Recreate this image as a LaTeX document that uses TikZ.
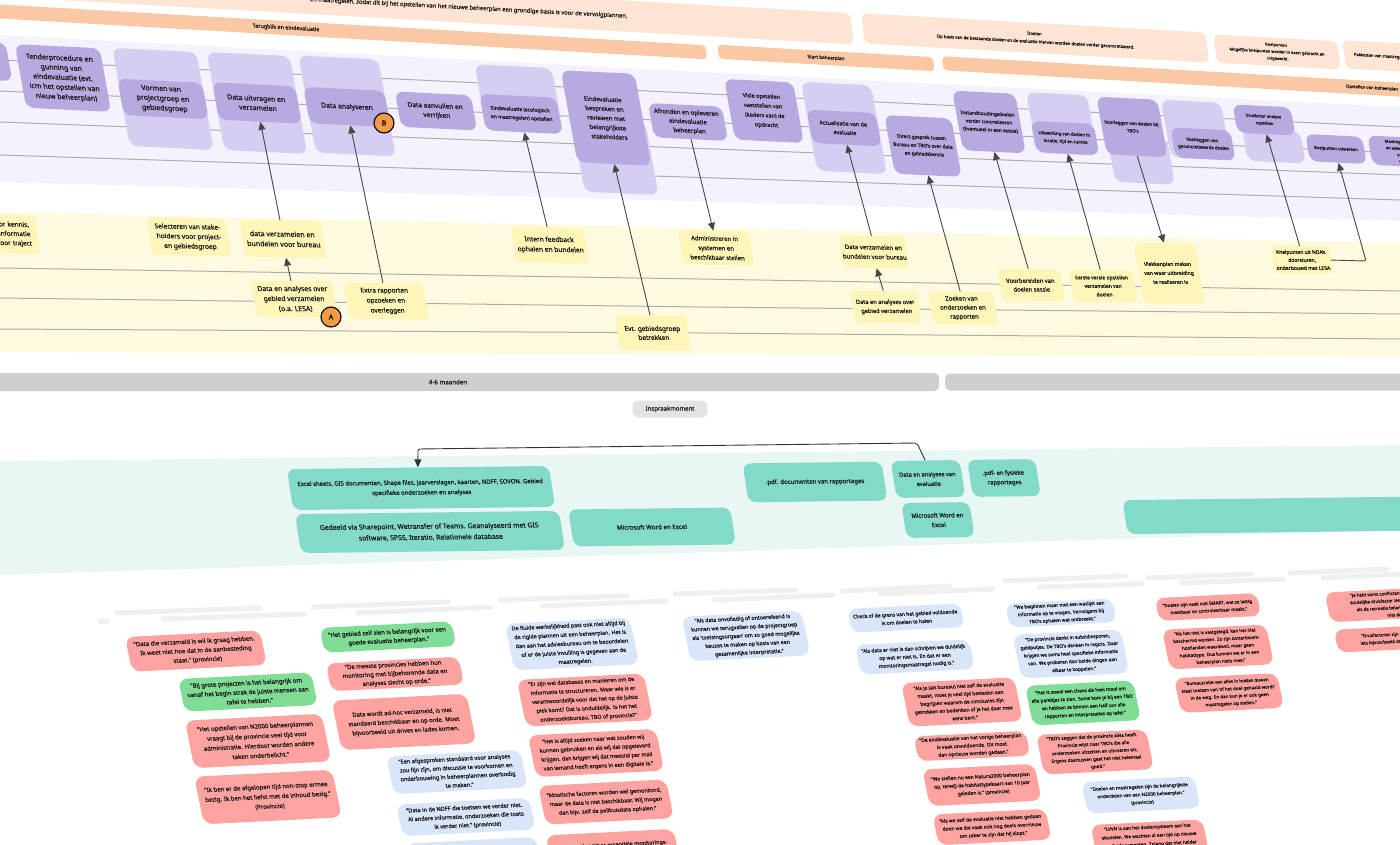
\documentclass[tikz,border=0pt]{standalone}
\usepackage{fontspec}
\setmainfont{Noto Sans}[FakeBold=0.25]
\usetikzlibrary{arrows.meta}

\definecolor{darkpurple}{HTML}{B9A9E1}
\definecolor{lightpurple}{HTML}{D6CEF1}
\definecolor{purpleband}{HTML}{F4F2FC}
\definecolor{yellowband}{HTML}{FEFADF}
\definecolor{yellowcard}{HTML}{FEF5B8}
\definecolor{tealband}{HTML}{E8F7F4}
\definecolor{tealcard}{HTML}{84DAC8}
\definecolor{peach}{HTML}{FEE4D3}
\definecolor{orangeband}{HTML}{FBC8A5}
\definecolor{rednote}{HTML}{FFA3A1}
\definecolor{greennote}{HTML}{80DD96}
\definecolor{bluenote}{HTML}{D9E5F9}
\definecolor{badgeorange}{HTML}{F49A45}

\tikzset{
	sz/.style 2 args={minimum width=#1pt,minimum height=#2pt},
	fs/.style 2 args={font=\fontsize{#1}{#2}\selectfont},
	card/.style={transform shape,inner sep=0pt,align=center,text=black!92,rounded corners=5pt},
	peachcard/.style={card,fill=peach,rotate=-3.2,xslant=-.18,rounded corners=6pt},
	orangecard/.style={card,fill=orangeband,rotate=-3.3,xslant=-.18,rounded corners=4pt},
	darkcard/.style={card,fill=darkpurple,rotate=-2.8,xslant=-.23,rounded corners=8pt},
	lightcard/.style={card,fill=lightpurple,rotate=-2.8,xslant=-.23,rounded corners=8pt},
	yellowtop/.style={card,fill=yellowcard,rotate=-1.2,xslant=-.18},
	yellowlow/.style={card,fill=yellowcard,rotate=-.1,xslant=-.17},
	tealbox/.style={card,fill=tealcard,rotate=.7,xslant=-.14,rounded corners=8pt},
	rednt/.style={card,fill=rednote,rotate=2.9,xslant=-.15,rounded corners=9pt},
	greennt/.style={card,fill=greennote,rotate=2.9,xslant=-.15,rounded corners=9pt},
	bluent/.style={card,fill=bluenote,rotate=2.9,xslant=-.15,rounded corners=9pt},
	graybar/.style={card,fill=black!19,rounded corners=5pt},
	badge/.style={circle,draw=black,line width=1.1pt,fill=badgeorange,inner sep=0pt,minimum size=20pt,font=\fontsize{7}{8}\selectfont\bfseries},
	bandline/.style={draw=black!32,line width=1pt},
	headline/.style={draw=black!6,line width=5pt,line cap=round},
	conn/.style={-{Triangle[length=8pt,width=7pt]},draw=black!72,line width=.9pt},
}

\begin{document}
\begin{tikzpicture}[x=1pt,y=-1pt]
	\useasboundingbox (0,0) rectangle (1400,845);
	\clip (0,0) rectangle (1400,845);

	% Bands behind everything
	\fill[purpleband] (0,35) -- (700,72) -- (1400,107) -- (1400,221) -- (0,182) -- cycle;
	\fill[yellowband] (0,212) -- (700,228) -- (1400,243) -- (1400,357) -- (0,352) -- cycle;
	\fill[tealband] (0,461) -- (1400,445) -- (1400,530) -- (0,575) -- cycle;

	% Lines through the purple and the yellow band
	\draw[bandline] (0,60) -- (1400,127);
	\draw[bandline] (0,91) -- (1400,153);
	\draw[bandline] (0,122) -- (1400,175);
	\draw[bandline] (0,155) -- (1400,200);
	\draw[bandline] (0,268) -- (700,279) -- (1400,291);
	\draw[bandline] (0,298) -- (700,307) -- (1400,314);
	\draw[bandline] (0,329) -- (700,333) -- (1400,339);

	% Peach headers
	\node[peachcard,sz={815}{31}] (topheader) at (445,6) {};
	\node[anchor=east,rotate=-3,fs={5.8}{7},text=black!92] (toptext) at (631,16.5) {en maatregelen, zodat dit bij het opstellen van het nieuwe beheerplan een grondige basis is voor de vervolgplannen.};
	\node[peachcard,sz={345}{30},fs={4.3}{8}] (doelen) at (1035,38) {\textbf{Doelen}\\Op basis van de bestaande doelen en de evaluatie hiervan worden doelen verder geconcretiseerd.};
	\node[peachcard,sz={124}{28},fs={4}{6.8}] (knelheader) at (1277,52) {\textbf{Knelpunten}\\Mogelijke knelpunten worden in kaart gebracht en\\uitgewerkt.};
	\node[peachcard,sz={170}{28},fs={4.1}{8},text width=150pt,align=left] (pakketten) at (1429,59) {Pakketten van maatregelen en};

	% Orange bands
	\node[orangecard,sz={842}{14},fs={5.4}{7}] (terugblik) at (286,28) {Terugblik en eindevaluatie};
	\node[orangecard,sz={216}{14},fs={4.7}{6}] (start) at (826,58) {Start beheerplan};
	\node[orangecard,sz={860}{14},fs={4.3}{6}] (opstellen) at (1372,88) {Opstellen van beheerplan};

	% Purple cards, back ones first
	\node[lightcard,sz={84}{97}] (vormenback) at (163,99) {};
	\node[lightcard,sz={83}{97}] (uitvragenback) at (257,103) {};
	\node[lightcard,sz={80}{96}] (analyseback) at (347,106) {};
	\node[lightcard,sz={77}{65}] (eindback) at (519,99) {};
	\node[lightcard,sz={74}{72}] (besprekenback) at (615,157) {};
	\node[lightcard,sz={70}{88}] (actualback) at (844,128) {};
	\node[lightcard,sz={61}{60}] (uitwerkback) at (1062,124) {};
	\node[lightcard,sz={60}{46}] (voorlegback) at (1141,160) {};
	\node[lightcard,sz={60}{57}] (vastlegback) at (1196,130) {};
	\node[lightcard,sz={58}{32}] (drukback) at (1274,146) {};

	\node[darkcard,sz={78}{38}] (stub) at (-30,60) {};
	\node[darkcard,sz={85}{63},fs={7}{9.7}] (tender) at (63,78) {Tenderprocedure en\\gunning van\\eindevaluatie (evt.\\icm het opstellen van\\nieuw beheerplan)};
	\node[darkcard,sz={85}{36},fs={7}{9.7}] (vormen) at (163,99) {Vormen van\\projectgroep en\\gebiedsgroep};
	\node[darkcard,sz={83}{37},fs={6.9}{9.5}] (uitvragen) at (257,103) {Data uitvragen en\\verzamelen};
	\node[darkcard,sz={81}{36},fs={6.8}{9}] (analyse) at (347,107) {Data analyseren};
	\node[darkcard,sz={76}{35},fs={6.5}{9.3}] (aanvullen) at (436,111) {Data aanvullen en\\verrijken};
	\node[darkcard,sz={77}{36},fs={5}{8.5}] (eind) at (521,114) {Eindevaluatie (ecologisch\\en maatregelen) opstellen};
	\node[darkcard,sz={74}{91},fs={6}{9.3}] (bespreken) at (606,118) {Eindevaluatie\\bespreken en\\reviewen met\\belangrijkste\\stakeholders};
	\node[darkcard,sz={74}{34},fs={6}{9}] (afronden) at (688,122) {Afronden en opleveren\\eindevaluatie\\beheerplan};
	\node[darkcard,sz={69}{60},fs={5.5}{9.5}] (visie) at (764,111) {Visie opstellen\\vaststellen van\\(kaders van) de\\opdracht};
	\node[darkcard,sz={69}{33},fs={5.4}{9}] (actual) at (844,128) {Actualisatie van de\\evaluatie};
	\node[darkcard,sz={67}{58},fs={4.8}{8.3}] (direct) at (923,146) {Direct gesprek tussen\\Bureau en TBO's over data\\en gebiedskennis};
	\node[darkcard,sz={63}{59},fs={4.8}{8}] (instand) at (989,122) {Instandhoudingsdoelen\\verder concretiseren\\(Eventueel in een sessie)};
	\node[darkcard,sz={63}{31},fs={4.4}{7.5}] (uitwerk) at (1065,138) {Uitwerking van doelen in\\locatie, tijd en ruimte};
	\node[darkcard,sz={61}{57},fs={4.4}{7.5}] (voorleg) at (1132,127) {Voorleggen van doelen bij\\TBO's};
	\node[darkcard,sz={60}{30},fs={4.4}{7.2}] (vastleg) at (1203,144) {Vastleggen van\\geconcretiseerde doelen};
	\node[darkcard,sz={58}{28},fs={4}{7}] (druk) at (1264,120) {Drukfactor analyse\\opstellen};
	\node[darkcard,sz={57}{27},fs={4.2}{7}] (knelwerk) at (1336,149) {Knelpunten uitwerken};
	\node[darkcard,sz={76}{29},fs={4}{6.5}] (maatregel) at (1408,152) {Maatregelen opzoeken\\en selecteren met hulp\\van LESA en\\voorstellen};

	% Yellow cards
	\node[yellowtop,sz={69}{38},fs={6.4}{9.3},text width=55pt,align=right] (kennis) at (3,234) {voor kennis,\\informatie\\voor traject};
	\node[yellowtop,sz={79}{37},fs={6.6}{9.7}] (selecteren) at (189,237) {Selecteren van stake-\\holders voor project-\\en gebiedsgroep};
	\node[yellowtop,sz={81}{37},fs={7}{10}] (verzamelen) at (283,239) {data verzamelen en\\bundelen voor bureau};
	\node[yellowlow,sz={81}{36},fs={6.8}{10}] (gebied) at (294,299) {Data en analyses over\\gebied verzamelen\\(o.a. LESA)};
	\node[yellowlow,sz={79}{36},fs={6.4}{10}] (extra) at (386,301) {Extra rapporten\\opzoeken en\\overleggen};
	\node[yellowtop,sz={73}{35},fs={6.6}{10}] (feedback) at (550,245) {Intern feedback\\ophalen en bundelen};
	\node[yellowlow,sz={71}{35},fs={6.5}{9}] (betrekken) at (653,333) {Evt. gebiedsgroep\\betrekken};
	\node[yellowtop,sz={71}{34},fs={6}{9.5}] (administreren) at (716,248) {Administreren in\\systemen en\\beschikbaar stellen};
	\node[yellowtop,sz={66}{32},fs={6.1}{9.5}] (verzamelentwee) at (874,252) {Data verzamelen en\\bundelen voor bureau};
	\node[yellowlow,sz={67}{32},fs={5.7}{9}] (gebiedtwee) at (886,307) {Data en analyses over\\gebied verzamelen};
	\node[yellowlow,sz={65}{33},fs={6}{9}] (zoeken) at (963,308) {Zoeken van\\onderzoeken en\\rapporten};
	\node[yellowlow,sz={63}{32},fs={5.8}{8.7}] (voorbereiden) at (1031,285) {Voorbereiden van\\doelen sessie};
	\node[yellowlow,sz={64}{32},fs={5}{8.5}] (eerste) at (1103,286) {Eerste versie opstellen\\verzamelen van\\doelen};
	\node[yellowlow,sz={61}{60},fs={5.1}{9}] (vlekken) at (1169,273) {Vlekkenplan maken\\van waar uitbreiding\\te realiseren is};
	\node[yellowlow,sz={58}{28},fs={5}{8}] (knelnda) at (1302,260) {Knelpunten uit NDA's\\doorsturen,\\onderbouwd met LESA};

	% Markers
	\node[badge] (markb) at (384,123) {B};
	\node[badge] (marka) at (331,317) {A};

	% Arrows between the yellow and the purple cards
	\draw[conn] (verzamelen.north) -- (uitvragen.south);
	\draw[conn] (extra.north) -- (analyse.south);
	\draw[conn] (gebied.north) -- (verzamelen.south);
	\draw[conn] (feedback.north) -- (eind.south);
	\draw[conn] (betrekken.north) -- (bespreken.south);
	\draw[conn] (afronden.south) -- (administreren.north);
	\draw[conn] (verzamelentwee.north) -- (actual.south);
	\draw[conn] (gebiedtwee.north) -- (verzamelentwee.south);
	\draw[conn] (zoeken.north) -- (direct.south);
	\draw[conn] (voorbereiden.north) -- (instand.south);
	\draw[conn] (eerste.north) -- (uitwerk.south);
	\draw[conn] (voorleg.south) -- (vlekken.north);
	\draw[conn] (knelnda.north) -- (druk.south);
	\coordinate (knelbend) at (1366,261);
	\draw[conn,rounded corners=2pt] (knelnda.east) -- (knelbend) -- (knelwerk.south);

	% Gray time bars
	\node[graybar,sz={982}{18},fs={6.2}{8}] (maanden) at (448,382) {4-6 maanden};
	\node[graybar,sz={710}{17}] (barrechts) at (1300,382) {};
	\node[card,fill=black!11,sz={75}{17},fs={6}{8},rounded corners=6pt] (inspraak) at (670,409) {Inspraakmoment};

	% Teal cards
	\node[tealbox,sz={262}{41},fs={5.9}{10}] (excel) at (421,488) {Excel sheets, GIS documenten, Shape files, jaarverslagen, kaarten, NDFF, SOVON. Gebied\\specifieke onderzoeken en analyses};
	\node[tealbox,sz={264}{39},fs={6.8}{11}] (gedeeld) at (430,532) {Gedeeld via Sharepoint, Wetransfer of Teams. Geanalyseerd met GIS\\software, SPSS, Iteratio, Relationele database};
	\node[tealbox,sz={162}{37},fs={6.2}{9}] (word) at (652,527) {Microsoft Word en Excel};
	\node[tealbox,sz={139}{39},fs={6}{9}] (pdfdoc) at (815,482) {.pdf. documenten van rapportages};
	\node[tealbox,sz={69}{37},fs={5.7}{9.5}] (evaldata) at (928,479) {Data en analyses van\\evaluatie};
	\node[tealbox,sz={68}{37},fs={5.8}{9.5}] (pdffysiek) at (1004,478) {.pdf- en fysieke\\rapportages};
	\node[tealbox,sz={68}{35},fs={6}{9.5}] (wordklein) at (938,520) {Microsoft Word en\\Excel};
	\node[tealbox,sz={350}{34}] (tealrechts) at (1300,515) {};
	\coordinate (evalup) at (917,443);
	\coordinate (excelup) at (418,449);
	\draw[conn,rounded corners=2pt,draw=black!80] (evaldata.north) -- (evalup) -- (excelup) -- (excel.north);

	% Gray lines above the note columns
	\foreach \ax/\ay/\bx/\by in {100/621/107/621,117/613/260/608,163/619/305/614,313/607/448/602,358/613/491/607,500/600/627/596,542/606/667/601,675/594/795/590,715/600/833/595,843/591/950/586,880/594/992/589,1005/581/1125/576,1040/587/1142/584,1148/578/1251/574,1182/583/1283/579,1290/573/1387/569,1323/578/1400/574}
		\draw[headline] (\ax,\ay) -- (\bx,\by);

	% Notes, first column
	\node[rednt,sz={135}{35},fs={6}{9.2}] (noteverzameld) at (196,651) {"Data die verzameld is wil ik graag hebben.\\Ik weet niet hoe dat in de aanbesteding\\staat." (provincie)};
	\node[greennt,sz={133}{33},fs={6}{9.2}] (noteprojecten) at (248,692) {"Bij grote projecten is het belangrijk om\\vanaf het begin strak de juiste mensen aan\\tafel te hebben."};
	\node[rednt,sz={137}{48},fs={6}{9.8}] (notetijd) at (258,741) {"Het opstellen van N2000 beheerplannen\\vraagt bij de provincie veel tijd voor\\administratie. Hierdoor worden andere\\taken onderbelicht."};
	\node[rednt,sz={138}{48},fs={6}{9.8}] (notebezig) at (268,797) {"Ik ben er de afgelopen tijd non-stop ermee\\bezig. Ik ben het liefst met de inhoud bezig."\\(Provincie)};

	% Notes, second column
	\node[greennt,sz={132}{25},fs={5.9}{8.8}] (notezien) at (388,637) {"Het gebied zelf zien is belangrijk voor een\\goede evaluatie beheerplan."};
	\node[rednt,sz={133}{28},fs={5.9}{8.8}] (notemonitoring) at (395,674) {"De meeste provincies hebben hun\\monitoring met bijbehorende data en\\analyses slecht op orde."};
	\node[rednt,sz={135}{50},fs={5.8}{9.2}] (noteadhoc) at (404,722) {Data wordt ad-hoc verzameld, is niet\\standaard beschikbaar en op orde. Moet\\bijvoorbeeld uit drives en lades komen.};
	\node[bluent,sz={134}{38},fs={5.6}{8.8}] (notestandaard) at (457,772) {"Een afgesproken standaard voor analyses\\zou fijn zijn, om discussie te voorkomen en\\onderbouwing in beheerplannen overbodig\\te maken."};
	\node[bluent,sz={133}{32},fs={5.6}{8.8}] (notendff) at (466,817) {"Data in de NDFF die toetsen we verder niet.\\Al andere informatie, onderzoeken die toets\\ik verder niet." (provincie)};
	\node[bluent,sz={130}{40}] (noteblauw) at (475,860) {};

	% Notes, third column
	\node[bluent,sz={125}{47},fs={5.4}{9}] (notefluide) at (572,644) {De fluide werkelijkheid past ook niet altijd bij\\de rigide plannen uit een beheerplan. Het is\\dan aan het adviesbureau om te beoordelen\\of er de juiste invulling is gegeven aan de\\maatregelen.};
	\node[rednt,sz={127}{47},fs={5.4}{9}] (notedatabases) at (585,700) {"Er zijn wel databases en manieren om de\\informatie te structureren. Maar wie is er\\verantwoordelijk voor dat het op de juiste\\plek komt? Dat is onduidelijk. Is het het\\onderzoeksbureau, TBO of provincie?"};
	\node[rednt,sz={128}{42},fs={5.4}{9}] (notezoeken) at (596,753) {"Het is altijd zoeken naar wat zouden wij\\kunnen gebruiken en als wij dat opgeleverd\\krijgen, dan krijgen wij dat meestal per mail\\van iemand heeft ergens in een digitale la."};
	\node[rednt,sz={128}{39},fs={5.4}{9}] (noteabiotisch) at (606,802) {"Abiotische factoren worden wel gemonitord,\\maar de data is niet beschikbaar. Wij mogen\\dan bijv. zelf de peilbuisdata ophalen."};
	\node[rednt,sz={128}{34},fs={5.4}{9}] (noteontbreekt) at (613,849) {"Soms ontbreekt er essentiële monitorings-\\data niet"};

	% Notes, fourth column
	\node[bluent,sz={120}{45},fs={5.3}{8.6}] (noteonvolledig) at (746,636) {"Als data onvolledig of ontoereikend is\\kunnen we terugvallen op de projectgroep\\als 'toetsingsorgaan' om zo goed mogelijke\\keuzes te maken op basis van een\\gezamenlijke interpretatie."};

	% Notes, fifth column
	\node[bluent,sz={113}{24},fs={5}{8}] (notegrens) at (906,618) {Check of de grens van het gebied voldoende\\is om doelen te halen};
	\node[bluent,sz={114}{30},fs={5}{8}] (notemaatregel) at (915,657) {"Als data er niet is dan schrijven we duidelijk\\op wat er niet is. En dat er een\\monitoringsmaatregel nodig is."};
	\node[rednt,sz={113}{44},fs={4.9}{8}] (notebureau) at (962,702) {"Als je (als bureau) niet zelf de evaluatie\\maakt, moet je veel tijd besteden aan\\begrijpen waarom de conclusies zijn\\getrokken en bedenken of je het daar mee\\eens bent."};
	\node[rednt,sz={112}{25},fs={4.9}{7.8}] (notevorige) at (972,746) {"De eindevaluatie van het vorige beheerplan\\is vaak onvoldoende. Dit moet\\dan opnieuw worden gedaan."};
	\node[rednt,sz={112}{37},fs={4.9}{8}] (notenatura) at (982,785) {"We stellen nu een Natura2000 beheerplan\\op, terwijl de habitattypekaart van 10 jaar\\geleden is." (provincie)};
	\node[rednt,sz={113}{31},fs={4.9}{8}] (noteovernieuw) at (992,827) {"Als we zelf de evaluatie niet hebben gedaan\\doen we die vaak ook nog deels overnieuw\\om zeker te zijn dat hij klopt."};

	% Notes, sixth column
	\node[bluent,sz={107}{24},fs={4.7}{7.6}] (notewaslijst) at (1061,613) {"We beginnen maar met een waslijst aan\\informatie op te vragen. Vervolgens bij\\TBO's ophalen wat ontbreekt."};
	\node[bluent,sz={108}{44},fs={4.7}{8}] (notesubsidie) at (1071,654) {"De provincie denkt in subsidiesporen,\\geldpotjes. De TBO's denken in regio's. Daar\\krijgen we soms heel specifieke informatie\\van. We proberen dan beide dingen aan\\elkaar te koppelen."};
	\node[greennt,sz={108}{40},fs={4.7}{8}] (notechaos) at (1083,703) {"Het is zowel een chaos als heel mooi om\\alle pareltjes te zien. Soms kom je bij een TBO\\en hebben ze binnen een half uur alle\\rapporten en interpretaties op tafel."};
	\node[rednt,sz={110}{40},fs={4.6}{7.5}] (notewijzen) at (1095,752) {"TBO's zeggen dat de provincie alles heeft.\\Provincie wijst naar TBO's die alle\\onderzoeken uitzetten en uitvoeren etc.\\Ergens daartussen gaat het niet helemaal\\goed."};
	\node[bluent,sz={113}{32},fs={4.6}{7.8}] (notedoelen) at (1141,795) {"Doelen en maatregelen zijn de belangrijkste\\onderdelen van een N2000 beheerplan."\\(provincie)};
	\node[rednt,sz={112}{36},fs={4.6}{8.5}] (notelvvn) at (1150,840) {"LVVN is aan het doelensysteem aan het\\sleutelen. We wachten al een tijd op nieuwe\\profieldocumenten. Zolang dat niet helder\\is, kunnen we niet stellen wat de};

	% Notes, seventh column
	\node[rednt,sz={102}{23},fs={4.5}{7.4}] (notesmart) at (1208,607) {"Doelen zijn vaak niet SMART, wat ze lastig\\meetbaar en controleerbaar maakt."};
	\node[rednt,sz={104}{40},fs={4.5}{7.4}] (notevast) at (1218,647) {"Als het niet is vastgelegd, kan het niet\\beschermd worden. Zo zijn dotterbloem-\\hooilanden waardevol, maar geen\\habitattype. Dus kunnen we er in een\\beheerplan niets mee."};
	\node[rednt,sz={103}{35},fs={4.5}{7.4}] (notehokjes) at (1229,693) {"Bureaucratie van alles in hokjes duwen\\staat toetsen van 'of het doel gehaald wordt'\\in de weg. En dan kun je er ook geen\\maatregelen op stellen."};

	% Notes, eighth column
	\node[rednt,sz={135}{30},fs={4.4}{7.2}] (noteconflict) at (1395,604) {"Je hebt soms conflicten: als een TBO een\\duidelijke drukfactor ziet in recreatie, maar\\als de recreatie belanghebbenden dat\\niet den."};
	\node[rednt,sz={128}{23},fs={4.4}{7.2}] (notedruk) at (1400,638) {"Drukfactoren zijn soms lastig. Als er\\iets bijvoorbeeld droogte is, dan kun je};
\end{tikzpicture}
\end{document}
